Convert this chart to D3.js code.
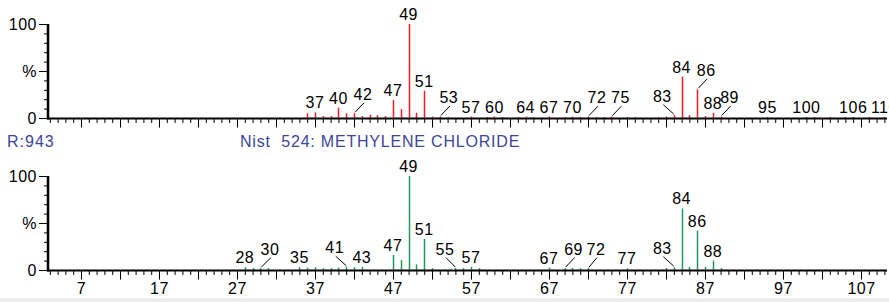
<!DOCTYPE html>
<html><head><meta charset="utf-8">
<script src="https://cdn.jsdelivr.net/npm/d3@7"></script>
<style>
html,body{margin:0;padding:0;background:#fff;}
svg{display:block;font-family:"Liberation Sans",Arial,sans-serif;}
</style></head><body>
<svg id="chart" width="889" height="302"></svg>
<script>
// ---------- data ----------
const topMasses      = [36,37,38,39,40,41,42,43,44,45,46,47,48,49,50,51,52,53,54,57,59,60,61,63,64,65,67,69,70,71,72,73,74,75,77,78,81,82,83,84,85,86,87,88,89,95,100,101,103,105,106,108,110];
const topIntensities = [5,6,2,2,11,5,5,2,3.5,3,2,19,9.5,100,5.5,29,1.5,1.5,1,1.5,1,1.5,1,1,1.5,1,1.5,1,1.5,1,1.5,1,1,1.5,1,1,1,1.5,3,44,3,30.5,2,5.5,1.5,1,1,1,1,1,1,1,1];
const topLabels      = [37,40,42,47,49,51,53,57,60,64,67,70,72,75,83,84,86,88,89,95,100,106,110];

const refMasses      = [28,29,30,31,35,36,37,38,39,40,41,42,43,47,48,49,50,51,52,55,56,57,58,67,69,70,71,72,77,82,83,84,85,86,87,88,89];
const refIntensities = [3,2,2,2,3,2.5,3,2,2,2.5,3.5,3,3.5,16,10.5,100,6,33,2,2,2,3.5,2,2.5,2,2,2,2,2,2,3,65.5,3.5,42,3.5,10,2];
const refLabels      = [28,30,35,41,43,47,49,51,55,57,67,69,72,77,83,84,86,88];

const xTickLabels = [7,17,27,37,47,57,67,77,87,97,107];
const yTickValues = [0,50,100];
const yTickLabels = ["0","%","100"];
const headerLeft  = "R:943";
const headerTitle = "Nist  524: METHYLENE CHLORIDE";

// ---------- layout (not data) ----------
const leaderOffsets = {
  top: {42:9, 53:9, 72:9, 75:9, 83:-11.5, 86:9, 89:9},
  ref: {30:9.5, 41:-11.5, 55:-10.5, 69:9, 72:8, 83:-11.5}
};
const AXX = 48, XEND = 887;

const svg = d3.select("#chart");
svg.append("rect").attr("x",0).attr("y",298).attr("width",889).attr("height",4).attr("fill","#eceeed");

const x = d3.scaleLinear().domain([7,107]).range([81,861]);

const panels = [
  {base:118, top:24, masses:topMasses, values:topIntensities, labels:topLabels, color:"#f41a22", offs:leaderOffsets.top, xlabels:false},
  {base:270, top:176, masses:refMasses, values:refIntensities, labels:refLabels, color:"#1f9a58", offs:leaderOffsets.ref, xlabels:true}
];

panels.forEach(p => {
  const y = d3.scaleLinear().domain([0,100]).range([p.base, p.top]);
  const g = svg.append("g");

  // peaks
  const pts = d3.zip(p.masses, p.values);
  g.selectAll("line.peak").data(pts).join("line")
    .attr("class","peak")
    .attr("x1", d => Math.round(x(d[0])) + 0.5).attr("x2", d => Math.round(x(d[0])) + 0.5)
    .attr("y1", p.base).attr("y2", d => y(d[1]))
    .attr("stroke", p.color).attr("stroke-width", 1.5);

  // y axis ticks
  const ya1 = g.append("g").attr("transform", `translate(${AXX},0)`)
    .call(d3.axisLeft(y).tickValues(d3.range(0,101,10)).tickSize(4).tickFormat(""));
  const ya2 = g.append("g").attr("transform", `translate(${AXX},0)`)
    .call(d3.axisLeft(y).tickValues(yTickValues).tickSize(9).tickPadding(2)
      .tickFormat((d,i) => yTickLabels[i]));
  // x axis ticks
  const xa1 = g.append("g").attr("transform", `translate(0,${p.base+1})`)
    .call(d3.axisBottom(x).tickValues(d3.range(3,111)).tickSize(4).tickFormat(""));
  const xa2 = g.append("g").attr("transform", `translate(0,${p.base+1})`)
    .call(d3.axisBottom(x).tickValues(d3.range(7,111,5)).tickSize(8.5).tickPadding(3)
      .tickFormat(d => (p.xlabels && xTickLabels.includes(d)) ? String(d) : ""));
  [ya1,ya2,xa1,xa2].forEach(a => {
    a.select(".domain").remove();
    a.selectAll("line").attr("stroke","#000");
    a.selectAll("text").attr("fill","#000").attr("font-size",16)
      .attr("font-family",'"Liberation Sans",Arial,sans-serif').style("letter-spacing","0.5px");
  });

  // axis lines
  g.append("line").attr("x1",AXX).attr("x2",AXX).attr("y1",y(100)).attr("y2",p.base+1.5)
    .attr("stroke","#000").attr("stroke-width",2.5);
  g.append("line").attr("x1",AXX-1).attr("x2",XEND).attr("y1",p.base+0.5).attr("y2",p.base+0.5)
    .attr("stroke","#000").attr("stroke-width",2);

  // peak labels
  const lookup = new Map(pts);
  p.labels.forEach(m => {
    const v = lookup.get(m);
    const px = x(m), pt = y(v);
    const off = p.offs[m];
    let lx = px, bottom = pt - 4;
    if (off !== undefined) {
      lx = px + off; bottom = pt - 13.5;
      g.append("line").attr("x1", lx + 1).attr("y1", bottom + 3)
        .attr("x2", px + (off > 0 ? 1 : 0)).attr("y2", pt - 1)
        .attr("stroke","#000").attr("stroke-width",1);
    }
    g.append("text").attr("x", lx).attr("y", bottom).attr("text-anchor","middle")
      .attr("font-size",16).style("letter-spacing","0.5px").attr("fill","#000").text(m);
  });
});

// header between panels
svg.append("text").attr("x",7).attr("y",146.5).attr("font-size",16).style("letter-spacing","1px")
  .attr("fill","#3c469a").text(headerLeft);
svg.append("text").attr("x",240).attr("y",146.5).attr("font-size",16).style("letter-spacing","0.8px")
  .style("white-space","pre").attr("fill","#3c469a").text(headerTitle);
</script></body></html>
